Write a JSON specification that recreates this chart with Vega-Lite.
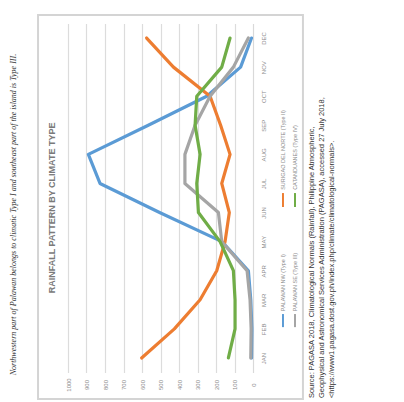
{
  "$schema": "https://vega.github.io/schema/vega-lite/v6.json",
  "width": 185,
  "height": 349,
  "autosize": {"type": "none"},
  "padding": {"left": 68, "top": 23.5, "right": 151, "bottom": 29.5},
  "background": "white",
  "config": {"view": {"stroke": null}, "axis": {"labelOverlap": false, "labelFlush": false, "tickCount": 24}},
  "datasets": {
    "rain": [
      {"month": 1, "series": "Type I", "value": 8},
      {"month": 2, "series": "Type I", "value": 6},
      {"month": 3, "series": "Type I", "value": 12},
      {"month": 4, "series": "Type I", "value": 25},
      {"month": 5, "series": "Type I", "value": 168},
      {"month": 6, "series": "Type I", "value": 505},
      {"month": 7, "series": "Type I", "value": 827},
      {"month": 8, "series": "Type I", "value": 890},
      {"month": 9, "series": "Type I", "value": 566},
      {"month": 10, "series": "Type I", "value": 250},
      {"month": 11, "series": "Type I", "value": 67},
      {"month": 12, "series": "Type I", "value": 8},
      {"month": 1, "series": "Type II", "value": 602},
      {"month": 2, "series": "Type II", "value": 425},
      {"month": 3, "series": "Type II", "value": 286},
      {"month": 4, "series": "Type II", "value": 196},
      {"month": 5, "series": "Type II", "value": 151},
      {"month": 6, "series": "Type II", "value": 128},
      {"month": 7, "series": "Type II", "value": 169},
      {"month": 8, "series": "Type II", "value": 124},
      {"month": 9, "series": "Type II", "value": 175},
      {"month": 10, "series": "Type II", "value": 232},
      {"month": 11, "series": "Type II", "value": 430},
      {"month": 12, "series": "Type II", "value": 575},
      {"month": 1, "series": "Type III", "value": 12},
      {"month": 2, "series": "Type III", "value": 10},
      {"month": 3, "series": "Type III", "value": 16},
      {"month": 4, "series": "Type III", "value": 32},
      {"month": 5, "series": "Type III", "value": 169},
      {"month": 6, "series": "Type III", "value": 187},
      {"month": 7, "series": "Type III", "value": 368},
      {"month": 8, "series": "Type III", "value": 368},
      {"month": 9, "series": "Type III", "value": 313},
      {"month": 10, "series": "Type III", "value": 232},
      {"month": 11, "series": "Type III", "value": 106},
      {"month": 12, "series": "Type III", "value": 25},
      {"month": 1, "series": "Type IV", "value": 133},
      {"month": 2, "series": "Type IV", "value": 97},
      {"month": 3, "series": "Type IV", "value": 97},
      {"month": 4, "series": "Type IV", "value": 106},
      {"month": 5, "series": "Type IV", "value": 178},
      {"month": 6, "series": "Type IV", "value": 295},
      {"month": 7, "series": "Type IV", "value": 304},
      {"month": 8, "series": "Type IV", "value": 286},
      {"month": 9, "series": "Type IV", "value": 313},
      {"month": 10, "series": "Type IV", "value": 304},
      {"month": 11, "series": "Type IV", "value": 169},
      {"month": 12, "series": "Type IV", "value": 124}
    ],
    "texts": [
      {"role": "title", "text": "RAINFALL PATTERN BY CLIMATE TYPE"},
      {"role": "caption", "text": "Northwestern part of Palawan belongs to climatic Type I and southeast part of the island is Type III."},
      {"role": "source", "text": "Source: PAGASA 2018, Climatological Normals (Rainfall), Philippine Atmospheric,\n\u00a0\u00a0\u00a0\u00a0\u00a0Geophysical and Astronomical Services Administration (PAGASA), accessed 27 July 2018,\n\u00a0\u00a0\u00a0\u00a0\u00a0<https://www1.pagasa.dost.gov.ph/index.php/climate/climatological-normals>."},
      {"role": "leg1", "text": "PALAWAN NW (Type I)"},
      {"role": "leg2", "text": "SURIGAO DEL NORTE (Type II)"},
      {"role": "leg3", "text": "PALAWAN SE (Type III)"},
      {"role": "leg4", "text": "CATANDUANES (Type IV)"}
    ]
  },
  "layer": [
    {
      "data": {"name": "rain"},
      "mark": {"type": "line", "strokeWidth": 3.2, "strokeJoin": "round", "strokeCap": "round"},
      "encoding": {
        "x": {
          "field": "value", "type": "quantitative",
          "scale": {"domain": [0, 1000], "reverse": true, "nice": false, "zero": false},
          "axis": {
            "orient": "bottom", "title": null, "values": [0, 100, 200, 300, 400, 500, 600, 700, 800, 900, 1000],
            "tickCount": 24, "format": "d",
            "grid": true, "gridColor": "#dcdcdc", "gridWidth": 1.2, "ticks": false, "domain": false,
            "labelOverlap": false, "labelFlush": false,
            "labelAngle": 270, "labelAlign": "center", "labelBaseline": "middle", "labelPadding": 12,
            "labelFontSize": 6, "labelColor": "#8c8c8c", "labelFont": "Liberation Sans"
          }
        },
        "y": {
          "field": "month", "type": "quantitative",
          "scale": {"domain": [0.5, 12.5], "nice": false, "zero": false},
          "axis": {
            "orient": "right", "title": null, "values": [1, 2, 3, 4, 5, 6, 7, 8, 9, 10, 11, 12],
            "tickCount": 24,
            "labelExpr": "['JAN','FEB','MAR','APR','MAY','JUN','JUL','AUG','SEP','OCT','NOV','DEC'][datum.value-1]",
            "grid": false, "ticks": false, "domain": true, "domainColor": "#d9d9d9",
            "labelOverlap": false, "labelFlush": false,
            "labelAngle": 270, "labelAlign": "center", "labelBaseline": "middle", "labelPadding": 10,
            "labelFontSize": 6, "labelColor": "#8c8c8c", "labelFont": "Liberation Sans"
          }
        },
        "order": {"field": "month", "type": "quantitative"},
        "color": {
          "field": "series", "type": "nominal", "legend": null,
          "scale": {"domain": ["Type I", "Type II", "Type III", "Type IV"], "range": ["#5b9bd5", "#ed7d31", "#a5a5a5", "#70ad47"]}
        }
      }
    },
    {
      "data": {"values": [{"k": 1}]},
      "mark": {"type": "rect", "fill": null, "stroke": "#d4d4d4", "strokeWidth": 2},
      "encoding": {
        "x": {"datum": 1162, "type": "quantitative"},
        "x2": {"datum": -270},
        "y": {"datum": 12.79, "type": "quantitative"},
        "y2": {"datum": -0.41}
      }
    },
    {
      "data": {"name": "texts"},
      "transform": [{"filter": "datum.role === 'title'"}],
      "mark": {"type": "text", "angle": 270, "align": "center", "baseline": "middle", "font": "Liberation Sans", "fontWeight": "bold", "fontSize": 9, "fill": "#7a7a7a"},
      "encoding": {
        "x": {"datum": 1087, "type": "quantitative"},
        "y": {"datum": 6.16, "type": "quantitative"},
        "text": {"field": "text"}
      }
    },
    {
      "data": {"name": "texts"},
      "transform": [{"filter": "datum.role === 'caption'"}],
      "mark": {"type": "text", "angle": 270, "align": "center", "baseline": "middle", "font": "Liberation Serif", "fontStyle": "italic", "fontSize": 8, "fill": "#333333"},
      "encoding": {
        "x": {"datum": 1292, "type": "quantitative"},
        "y": {"datum": 5.93, "type": "quantitative"},
        "text": {"field": "text"}
      }
    },
    {
      "data": {"name": "texts"},
      "transform": [{"filter": "datum.role === 'source'"}],
      "mark": {"type": "text", "angle": 270, "align": "left", "baseline": "top", "lineBreak": "\n", "lineHeight": 10, "font": "Liberation Sans", "fontSize": 7.5, "fill": "#333333"},
      "encoding": {
        "x": {"datum": -297, "type": "quantitative"},
        "y": {"datum": -0.38, "type": "quantitative"},
        "text": {"field": "text"}
      }
    },
    {
      "data": {"values": [{"k": 1}]},
      "mark": {"type": "rule", "strokeWidth": 2, "color": "#5b9bd5"},
      "encoding": {
        "x": {"datum": -162, "type": "quantitative"},
        "y": {"datum": 2.06, "type": "quantitative"},
        "y2": {"datum": 2.51}
      }
    },
    {
      "data": {"values": [{"k": 1}]},
      "mark": {"type": "rule", "strokeWidth": 2, "color": "#a5a5a5"},
      "encoding": {
        "x": {"datum": -227, "type": "quantitative"},
        "y": {"datum": 2.06, "type": "quantitative"},
        "y2": {"datum": 2.51}
      }
    },
    {
      "data": {"values": [{"k": 1}]},
      "mark": {"type": "rule", "strokeWidth": 2, "color": "#ed7d31"},
      "encoding": {
        "x": {"datum": -162, "type": "quantitative"},
        "y": {"datum": 6.19, "type": "quantitative"},
        "y2": {"datum": 6.67}
      }
    },
    {
      "data": {"values": [{"k": 1}]},
      "mark": {"type": "rule", "strokeWidth": 2, "color": "#70ad47"},
      "encoding": {
        "x": {"datum": -227, "type": "quantitative"},
        "y": {"datum": 6.19, "type": "quantitative"},
        "y2": {"datum": 6.67}
      }
    },
    {
      "data": {"name": "texts"},
      "transform": [{"filter": "datum.role === 'leg1'"}],
      "mark": {"type": "text", "angle": 270, "align": "left", "baseline": "middle", "font": "Liberation Sans", "fontSize": 5.5, "fill": "#8c8c8c"},
      "encoding": {
        "x": {"datum": -162, "type": "quantitative"},
        "y": {"datum": 2.61, "type": "quantitative"},
        "text": {"field": "text"}
      }
    },
    {
      "data": {"name": "texts"},
      "transform": [{"filter": "datum.role === 'leg3'"}],
      "mark": {"type": "text", "angle": 270, "align": "left", "baseline": "middle", "font": "Liberation Sans", "fontSize": 5.5, "fill": "#8c8c8c"},
      "encoding": {
        "x": {"datum": -227, "type": "quantitative"},
        "y": {"datum": 2.61, "type": "quantitative"},
        "text": {"field": "text"}
      }
    },
    {
      "data": {"name": "texts"},
      "transform": [{"filter": "datum.role === 'leg2'"}],
      "mark": {"type": "text", "angle": 270, "align": "left", "baseline": "middle", "font": "Liberation Sans", "fontSize": 5.5, "fill": "#8c8c8c"},
      "encoding": {
        "x": {"datum": -162, "type": "quantitative"},
        "y": {"datum": 6.78, "type": "quantitative"},
        "text": {"field": "text"}
      }
    },
    {
      "data": {"name": "texts"},
      "transform": [{"filter": "datum.role === 'leg4'"}],
      "mark": {"type": "text", "angle": 270, "align": "left", "baseline": "middle", "font": "Liberation Sans", "fontSize": 5.5, "fill": "#8c8c8c"},
      "encoding": {
        "x": {"datum": -227, "type": "quantitative"},
        "y": {"datum": 6.78, "type": "quantitative"},
        "text": {"field": "text"}
      }
    }
  ]
}
